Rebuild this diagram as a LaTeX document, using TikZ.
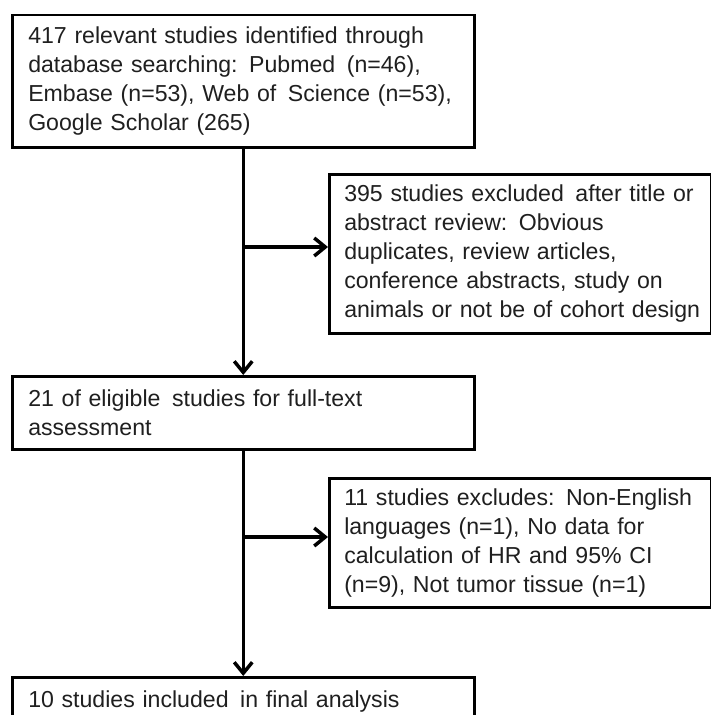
\documentclass[tikz,border=0pt]{standalone}
\usepackage{fontspec}
\setmainfont{Liberation Sans}
\usetikzlibrary{arrows.meta,positioning}

\begin{document}
\begin{tikzpicture}[
		x=1bp, y=-1bp,
		arrow/.style={-{Straight Barb[length=11bp, width=18bp]}, line width=3.5bp},
		block/.style={draw, line width=2.5bp, anchor=north west, align=left, inner xsep=16bp, inner ysep=0pt,
			font=\fontsize{23.2}{29}\selectfont, text=black!88},
		wide/.style={block, minimum width=462bp, text width=430bp},
		side/.style={block, minimum width=382bp, text width=352bp, inner xsep=15bp},
	]
		\useasboundingbox (0,0) rectangle (711,715);
		\clip (0,0) rectangle (711,715);

		\node (ids) [wide, minimum height=132bp] at (11,14)
			{417 relevant studies identified through\\database searching: Pubmed\, (n=46),\\Embase (n=53), Web of\, Science (n=53),\\Google Scholar (265)};
		\node (ex1) [side, minimum height=159bp] at (328,173)
			{\mbox{395 studies excluded\, after title or}\\abstract review: Obvious\\duplicates, review articles,\\conference abstracts, study on\\\mbox{animals or not be of cohort design}};
		\node (full) [wide, minimum height=73bp] at (11,375)
			{21 of eligible\, studies for full-text\\assessment};
		\node (ex2) [side, minimum height=129bp] at (328,477)
			{\mbox{11 studies excludes: Non-English}\\languages (n=1), No data for\\calculation of HR and 95\% CI\\(n=9), Not tumor tissue (n=1)};
		\node (final) [wide, minimum height=48bp] at (11,676)
			{10 studies included\, in final analysis};

		\coordinate (br1) at (ids.south |- 0,247);
		\coordinate (br2) at (full.south |- 0,537);

		\draw[arrow] (ids.south) -- (full.north);
		\draw[arrow] (full.south) -- (final.north);
		\draw[arrow] (br1) -- (br1 -| ex1.west);
		\draw[arrow] (br2) -- (br2 -| ex2.west);
	\end{tikzpicture}
\end{document}
